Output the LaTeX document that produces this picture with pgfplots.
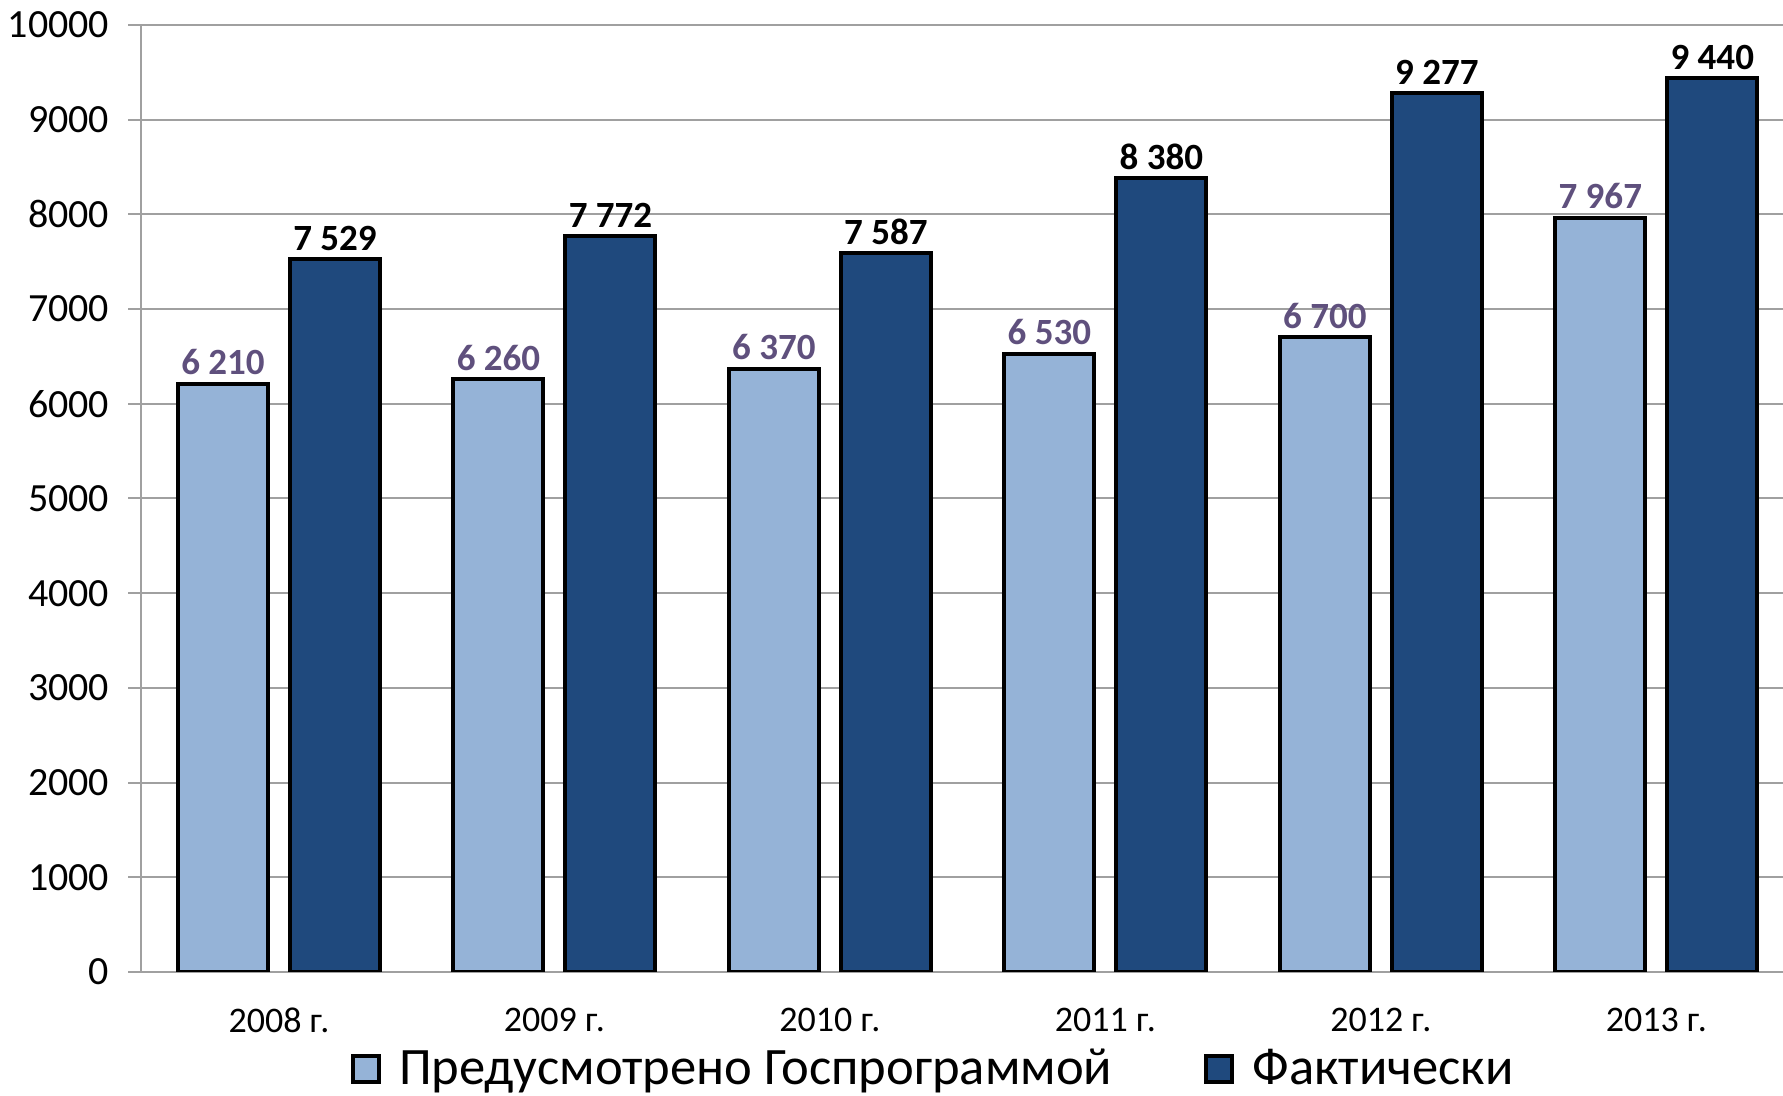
\documentclass[border=0pt]{standalone}
\usepackage{fontspec}
\setmainfont{Carlito}
\usepackage{pgfplots}
\pgfplotsset{compat=1.18}
\definecolor{lightbar}{RGB}{149,179,215}
\definecolor{darkbar}{RGB}{31,73,125}
\definecolor{gridgray}{RGB}{160,160,160}
\definecolor{labpurple}{RGB}{95,80,125}
\begin{document}
\begin{tikzpicture}
\useasboundingbox (-70.65pt,-62pt) rectangle (820.85pt,486pt);
\begin{axis}[
  at={(0,0)}, anchor=south west,
  scale only axis, width=820.85pt, height=473.5pt,
  xmin=-0.5, xmax=5.46, ymin=0, ymax=10000,
  ybar=11pt, bar width=45pt,
  axis x line*=bottom, axis y line*=left,
  axis line style={gridgray, line width=1pt, -},
  xtick={0,1,2,3,4,5},
  xticklabels={2008 г.,2009 г.,2010 г.,2011 г.,2012 г.,2013 г.},
  ytick={0,1000,...,10000},
  scaled y ticks=false,
  yticklabel style={/pgf/number format/1000 sep={}, /pgf/number format/assume math mode=true,
    font=\fontsize{20}{22}\selectfont, xshift=-6pt},
  xticklabel style={font=\fontsize{18}{20}\selectfont, yshift=-8pt},
  ymajorgrids, grid style={gridgray, line width=1pt},
  tick align=outside, major tick length=6.5pt,
  xtick style={draw=none}, ytick style={gridgray, line width=1pt},
  nodes near coords={\pgfmathprintnumber[assume math mode=true,1000 sep={\ }]{\pgfplotspointmeta}},
  every node near coord/.append style={font=\bfseries\fontsize{18.5}{20}\selectfont},
  legend style={at={(0.483,-0.102)}, anchor=center, draw=none, legend columns=2,
    font=\fontsize{26.3}{29}\selectfont,
    /tikz/every odd column/.append style={column sep=7pt},
    /tikz/every even column/.append style={column sep=44pt}},
]
\addplot[fill=lightbar, draw=black, line width=2pt,
  every node near coord/.append style={text=labpurple},
  legend image code/.code={\draw[fill=lightbar, draw=black, line width=2pt] (0pt,-6.5pt) rectangle (13pt,6.5pt);}]
  coordinates {(0,6210) (1,6260) (2,6370) (3,6530) (4,6700) (5,7967)};
\addlegendentry{Предусмотрено Госпрограммой}
\addplot[fill=darkbar, draw=black, line width=2pt,
  every node near coord/.append style={text=black},
  legend image code/.code={\draw[fill=darkbar, draw=black, line width=2pt] (0pt,-6.5pt) rectangle (13pt,6.5pt);}]
  coordinates {(0,7529) (1,7772) (2,7587) (3,8380) (4,9277) (5,9440)};
\addlegendentry{Фактически}
\end{axis}
\end{tikzpicture}
\end{document}
